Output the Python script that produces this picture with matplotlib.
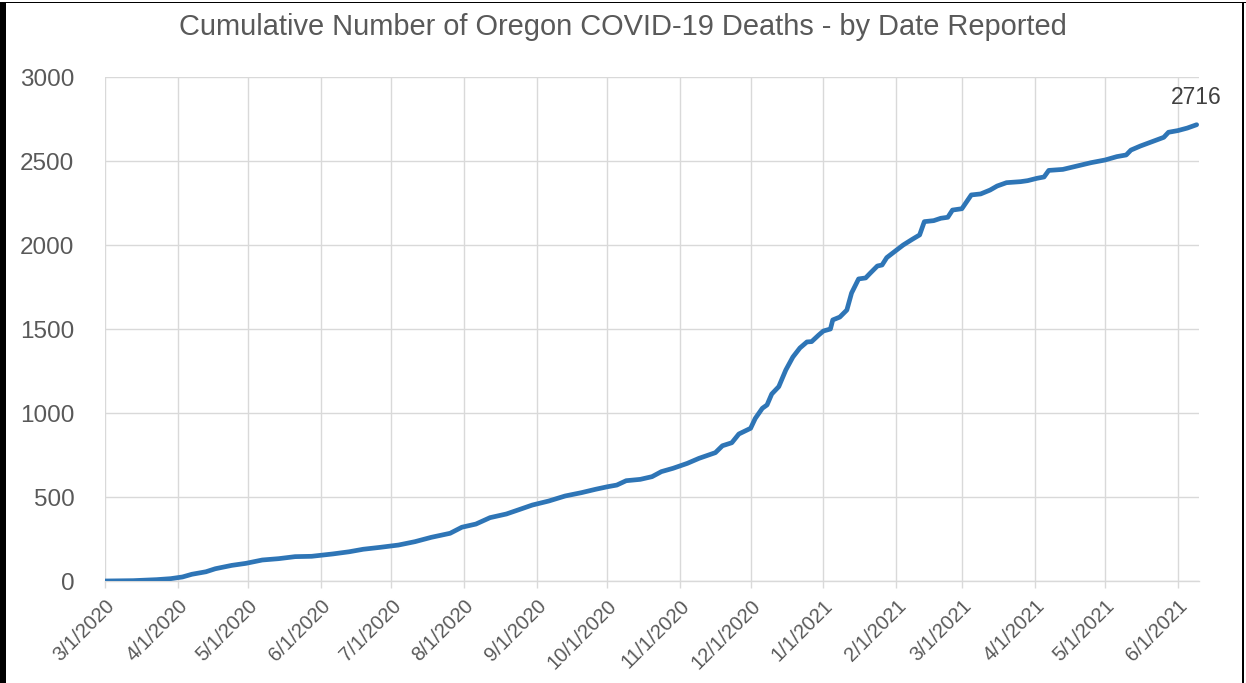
import numpy as np
import pandas as pd
import matplotlib
matplotlib.use('Agg')
import matplotlib.pyplot as plt
import matplotlib.dates as mdates
from matplotlib.patches import Rectangle

# 날짜별 누적 사망자 수
dates = ['2020-03-01', '2020-03-13', '2020-03-23', '2020-03-29', '2020-04-03', '2020-04-07',
         '2020-04-13', '2020-04-17', '2020-04-24', '2020-04-30', '2020-05-07', '2020-05-14',
         '2020-05-21', '2020-05-28', '2020-06-06', '2020-06-13', '2020-06-19', '2020-06-26',
         '2020-07-04', '2020-07-11', '2020-07-18', '2020-07-26', '2020-07-31', '2020-08-06',
         '2020-08-12', '2020-08-19', '2020-08-24', '2020-08-30', '2020-09-06', '2020-09-13',
         '2020-09-20', '2020-09-26', '2020-10-01', '2020-10-05', '2020-10-09', '2020-10-15',
         '2020-10-20', '2020-10-24', '2020-10-29', '2020-11-04', '2020-11-09', '2020-11-16',
         '2020-11-19', '2020-11-23', '2020-11-26', '2020-12-01', '2020-12-03', '2020-12-06',
         '2020-12-08', '2020-12-10', '2020-12-13', '2020-12-16', '2020-12-19', '2020-12-22',
         '2020-12-25', '2020-12-27', '2020-12-30', '2021-01-01', '2021-01-04', '2021-01-05',
         '2021-01-08', '2021-01-11', '2021-01-13', '2021-01-16', '2021-01-19', '2021-01-21',
         '2021-01-24', '2021-01-26', '2021-01-28', '2021-02-01', '2021-02-04', '2021-02-08',
         '2021-02-11', '2021-02-13', '2021-02-17', '2021-02-20', '2021-02-23', '2021-02-25',
         '2021-03-01', '2021-03-05', '2021-03-09', '2021-03-13', '2021-03-16', '2021-03-20',
         '2021-03-26', '2021-03-29', '2021-04-02', '2021-04-05', '2021-04-07', '2021-04-13',
         '2021-04-19', '2021-04-25', '2021-05-01', '2021-05-06', '2021-05-10', '2021-05-12',
         '2021-05-16', '2021-05-21', '2021-05-26', '2021-05-28', '2021-06-01', '2021-06-05',
         '2021-06-09']
deaths = [0, 2, 8, 14, 24, 40,
          55, 73, 93, 105, 125, 133,
          145, 147, 161, 174, 189, 200,
          214, 234, 260, 284, 320, 339,
          377, 399, 423, 452, 476, 506,
          526, 546, 561, 571, 597, 605,
          621, 651, 671, 700, 730, 764,
          805, 823, 875, 909, 968, 1028,
          1048, 1113, 1157, 1256, 1333, 1387,
          1423, 1425, 1464, 1488, 1500, 1554,
          1571, 1613, 1714, 1798, 1804, 1833,
          1875, 1881, 1925, 1968, 2000, 2035,
          2060, 2139, 2145, 2159, 2165, 2208,
          2216, 2298, 2304, 2327, 2351, 2371,
          2377, 2383, 2397, 2405, 2444, 2450,
          2470, 2490, 2506, 2526, 2536, 2565,
          2589, 2615, 2641, 2671, 2681, 2696,
          2716]

title = 'Cumulative Number of Oregon COVID-19 Deaths - by Date Reported'
y_ticks = [0, 500, 1000, 1500, 2000, 2500, 3000]

x = pd.to_datetime(dates)

plt.rcParams['font.family'] = ['Liberation Sans', 'DejaVu Sans']

fig = plt.figure(figsize=(12.46, 6.83), dpi=100)
ax = fig.add_axes([105 / 1246, 1 - 581 / 683, (1199 - 105) / 1246, (581 - 77) / 683])

ax.plot(x, deaths, color='#2E75B6', lw=3.4, solid_joinstyle='round', solid_capstyle='round', zorder=3)

ax.set_xlim(pd.Timestamp('2020-03-01'), pd.Timestamp('2021-06-10'))
ax.set_ylim(0, 3000)
ax.set_yticks(y_ticks)

ax.xaxis.set_major_locator(mdates.MonthLocator(bymonthday=1))
ax.xaxis.set_major_formatter(mdates.DateFormatter('%-m/%-d/%Y'))
for lab in ax.get_xticklabels():
    lab.set_rotation(45)
    lab.set_ha('right')
    lab.set_rotation_mode('anchor')

ax.grid(True, color='#D9D9D9', lw=1)
ax.set_axisbelow(True)
for s in ['top', 'right', 'left']:
    ax.spines[s].set_visible(False)
ax.spines['bottom'].set_color('#D9D9D9')
ax.spines['bottom'].set_linewidth(1)

ax.tick_params(axis='y', length=0, pad=22, labelsize=17.5, labelcolor='#595959')
ax.tick_params(axis='x', length=5, width=1, color='#D9D9D9', pad=6, labelsize=14.5, labelcolor='#595959')

# 마지막 값 레이블
ax.annotate(str(deaths[-1]), (x[-1], deaths[-1]), xytext=(0, 11), textcoords='offset points',
            ha='center', va='bottom', fontsize=16.5, color='#404040')

fig.text(623 / 1246, 1 - 27 / 683, title, ha='center', va='center',
         fontsize=20.9, color='#595959')

# 바깥 테두리
fig.add_artist(Rectangle((0, 0), 6 / 1246, 1 - 3 / 683, transform=fig.transFigure, color='black', lw=0))
fig.add_artist(Rectangle((0, 1 - 3 / 683), 1, 1.5 / 683, transform=fig.transFigure, color='black', lw=0))
fig.add_artist(Rectangle((1 - 4 / 1246, 0), 1.5 / 1246, 1 - 3 / 683, transform=fig.transFigure, color='black', lw=0))

fig.savefig('out.png', dpi=100)
